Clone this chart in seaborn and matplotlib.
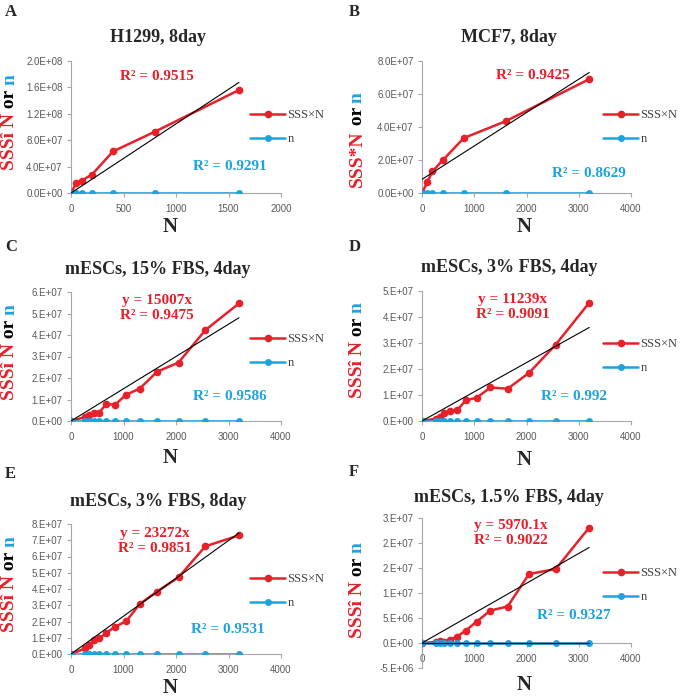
# SSS x N vs N, six panels (Excel-style line charts)

import numpy as np
import matplotlib
matplotlib.use("Agg")
import matplotlib.pyplot as plt
import seaborn as sns

# data
a_x = [0, 50, 100, 200, 400, 800, 1600]
a_sss = [0, 1.5e7, 1.86e7, 2.8e7, 6.3e7, 9.3e7, 1.56e8]
a_n = [0, 0, 0, 0, 0, 0, 0]

b_x = [0, 100, 200, 400, 800, 1600, 3200]
b_sss = [0, 0.65e7, 1.31e7, 2.0e7, 3.33e7, 4.35e7, 6.9e7]
b_n = [0, 0, 0, 0, 0, 0, 0]

mesc_x = [0, 275, 344, 430, 537, 671, 839, 1049, 1311, 1638, 2048, 2560, 3200]
c_sss = [0, 1.9e6, 2.8e6, 3.7e6, 3.9e6, 7.9e6, 7.6e6, 1.22e7, 1.51e7, 2.29e7, 2.72e7, 4.23e7, 5.47e7]
d_sss = [0, 0.9e6, 1.7e6, 2.9e6, 4.0e6, 4.2e6, 7.9e6, 9.0e6, 1.29e7, 1.24e7, 1.85e7, 2.94e7, 4.55e7]
e_sss = [0, 3.5e6, 5.7e6, 8.4e6, 9.6e6, 1.29e7, 1.68e7, 2.01e7, 3.08e7, 3.84e7, 4.72e7, 6.63e7, 7.3e7]
f_sss = [0, 2e5, 5e5, 3e5, 6e5, 1.3e6, 2.5e6, 4.3e6, 6.5e6, 7.3e6, 1.38e7, 1.48e7, 2.31e7]
mesc_n = [0, 0, 0, 0, 0, 0, 0, 0, 0, 0, 0, 0, 0]

titles = ["H1299, 8day", "MCF7, 8day", "mESCs, 15% FBS, 4day",
          "mESCs, 3% FBS, 4day", "mESCs, 3% FBS, 8day", "mESCs, 1.5% FBS, 4day"]
letters = ["A", "B", "C", "D", "E", "F"]
slopes = [None, None, 15007, 11239, 23272, 5970.1]   # from the equations shown
r2_red = ["0.9515", "0.9425", "0.9475", "0.9091", "0.9851", "0.9022"]
r2_blue = ["0.9291", "0.8629", "0.9586", "0.992", "0.9531", "0.9327"]
ylabel_first = ["SSSî N", "SSS*N", "SSSî N", "SSSî N", "SSSî N", "SSSî N"]

RED = "#E8202A"
BLUE = "#1EA3DF"
GRAY = "#595959"

sns.set_theme(style="white")
plt.rcParams["font.family"] = ["Liberation Serif", "DejaVu Serif"]

W, H = 688, 700
fig = plt.figure(figsize=(W / 100, H / 100), dpi=100)


def fx(x):
    return x / W


def fy(y):
    return 1 - y / H


def excel_fmt(v, pos=None):
    # Excel "0.E+00" style, rounds half up
    if abs(v) < 1e-6:
        return "0.E+00"
    e = int(np.floor(np.log10(abs(v))))
    m = int(np.floor(abs(v) / 10 ** e + 0.5 + 1e-9))
    if m == 10:
        m, e = 1, e + 1
    sign = "-" if v < 0 else ""
    return f"{sign}{m}.E{e:+03d}"


def sci1(v, pos=None):
    return f"{v:.1E}"


# per panel layout in pixels
panels = [
    dict(box=(71, 281, 61, 193), ylim=(0, 2e8), ystep=4e7, xmax=2000, xstep=500, fmt=sci1,
         x=a_x, sss=a_sss, n=a_n, intercept=False, ntop=False,
         red=(0.41, 0.88), blue=(0.757, 0.197), leg=(250, 109), ylab=(10, 170), title=(158, 38), xl=(170, 227)),
    dict(box=(422, 631, 61, 193), ylim=(0, 8e7), ystep=2e7, xmax=4000, xstep=1000, fmt=sci1,
         x=b_x, sss=b_sss, n=b_n, intercept=True, ntop=False,
         red=(0.53, 0.89), blue=(0.80, 0.144), leg=(603, 109), ylab=(357, 187), title=(509, 38), xl=(524, 227)),
    dict(box=(71, 281, 292, 421), ylim=(0, 6e7), ystep=1e7, xmax=4000, xstep=1000, fmt=excel_fmt,
         x=mesc_x, sss=c_sss, n=mesc_n, ntop=False,
         red=(0.41, 0.876), blue=(0.755, 0.19), leg=(250, 333), ylab=(10, 400), title=(158, 270), xl=(170, 458)),
    dict(box=(422, 631, 291, 421), ylim=(0, 5e7), ystep=1e7, xmax=4000, xstep=1000, fmt=excel_fmt,
         x=mesc_x, sss=d_sss, n=mesc_n, ntop=False,
         red=(0.435, 0.877), blue=(0.727, 0.19), leg=(603, 338), ylab=(357, 398), title=(509, 268), xl=(524, 460)),
    dict(box=(71, 281, 524, 654), ylim=(0, 8e7), ystep=1e7, xmax=4000, xstep=1000, fmt=excel_fmt,
         x=mesc_x, sss=e_sss, n=mesc_n, ntop=False,
         red=(0.40, 0.87), blue=(0.748, 0.19), leg=(250, 573), ylab=(10, 632), title=(158, 502), xl=(170, 688)),
    dict(box=(422, 631, 518, 668), ylim=(-5e6, 2.5e7), ystep=5e6, xmax=4000, xstep=1000, fmt=excel_fmt,
         x=mesc_x, sss=f_sss, n=mesc_n, ntop=True,
         red=(0.426, 0.90), blue=(0.727, 0.353), leg=(603, 567), ylab=(357, 638), title=(509, 498), xl=(524, 685)),
]

letter_pos = [(5, 12), (349, 12), (5, 247), (349, 247), (5, 474), (349, 472)]

for i, p in enumerate(panels):
    l, r, t, b = p["box"]
    ax = fig.add_axes([fx(l), fy(b), (r - l) / W, (b - t) / H])
    x = np.array(p["x"], dtype=float)
    y = np.array(p["sss"], dtype=float)

    sns.lineplot(x=p["x"], y=p["sss"], ax=ax, color=RED, lw=1.8, marker="o", ms=5.5,
                 mec=RED, mew=0, label="SSS×N", zorder=3)
    sns.lineplot(x=p["x"], y=p["n"], ax=ax, color=BLUE, lw=1.8, marker="o", ms=5,
                 mec=BLUE, mew=0, label="n", zorder=4)

    # linear trendlines
    if slopes[i] is not None:
        k, c0 = slopes[i], 0.0
    elif p.get("intercept"):
        k, c0 = np.polyfit(x, y, 1)
    else:
        k, c0 = (x * y).sum() / (x * x).sum(), 0.0
    xs = np.array([0, x.max()])
    ax.plot(xs, k * xs + c0, color="black", lw=0.8, zorder=5)
    nn = np.array(p["n"], dtype=float)
    kn = (x * nn).sum() / (x * x).sum()
    ax.plot(xs, kn * xs, color="#1a1a2e", lw=1.0, zorder=5 if p["ntop"] else 2)

    ax.set_xlim(0, p["xmax"])
    ax.set_ylim(*p["ylim"])
    ax.set_xticks(np.arange(0, p["xmax"] + 1, p["xstep"]))
    ax.set_yticks(np.arange(p["ylim"][0], p["ylim"][1] + p["ystep"] / 2, p["ystep"]))
    ax.yaxis.set_major_formatter(plt.FuncFormatter(p["fmt"]))
    ax.set_xlabel("")
    ax.set_ylabel("")
    for s in ["top", "right"]:
        ax.spines[s].set_visible(False)
    for s in ["left", "bottom"]:
        ax.spines[s].set_color("#A6A6A6")
        ax.spines[s].set_linewidth(0.8)
    if p["ylim"][0] < 0:
        ax.spines["bottom"].set_position(("data", 0))
    ax.tick_params(axis="both", direction="out", length=3, width=0.8, color="#A6A6A6",
                   labelsize=7, labelcolor=GRAY, left=True, bottom=True)
    ax.tick_params(axis="x", pad=5)
    ax.tick_params(axis="y", pad=3)
    for lab in ax.get_xticklabels() + ax.get_yticklabels():
        lab.set_fontfamily("Liberation Sans")
    ax.patch.set_alpha(0)

    # R² annotations
    if slopes[i] is not None:
        red_txt = f"y = {slopes[i]:g}x\nR² = {r2_red[i]}"
    else:
        red_txt = f"R² = {r2_red[i]}"
    ax.text(*p["red"], red_txt, transform=ax.transAxes, color=RED, fontsize=11,
            fontweight="bold", ha="center", va="center", linespacing=1.15)
    ax.text(*p["blue"], f"R² = {r2_blue[i]}", transform=ax.transAxes, color=BLUE,
            fontsize=11, fontweight="bold", ha="center", va="center")

    handles, labels = ax.get_legend_handles_labels()
    ax.legend(handles[:2], labels[:2], loc="upper left",
              bbox_to_anchor=(fx(p["leg"][0]), fy(p["leg"][1])), bbox_transform=fig.transFigure,
              frameon=False, fontsize=9, handlelength=2.8, handletextpad=0.2,
              labelspacing=0.95, borderaxespad=0, borderpad=0, labelcolor="#404040")

    # title and axis labels
    fig.text(fx(p["title"][0]), fy(p["title"][1]), titles[i], fontsize=13, fontweight="bold",
             ha="center", va="center")
    fig.text(fx(p["xl"][0]), fy(p["xl"][1]), "N", fontsize=15, fontweight="bold",
             ha="center", va="center")

    # multicolour rotated y label
    t1 = fig.text(fx(p["ylab"][0]), fy(p["ylab"][1]), ylabel_first[i], color=RED, fontsize=14,
                  fontweight="bold", rotation=90, ha="center", va="bottom")
    a2 = ax.annotate(" or ", xy=(0.5, 1), xycoords=t1, color="black", fontsize=14,
                     fontweight="bold", rotation=90, ha="center", va="bottom", annotation_clip=False)
    ax.annotate("n", xy=(0.5, 1), xycoords=a2, color=BLUE, fontsize=14,
                fontweight="bold", rotation=90, ha="center", va="bottom", annotation_clip=False)

    fig.text(fx(letter_pos[i][0]), fy(letter_pos[i][1]), letters[i], fontsize=12,
             fontweight="bold", ha="left", va="center")

fig.savefig("out.png", dpi=100)
